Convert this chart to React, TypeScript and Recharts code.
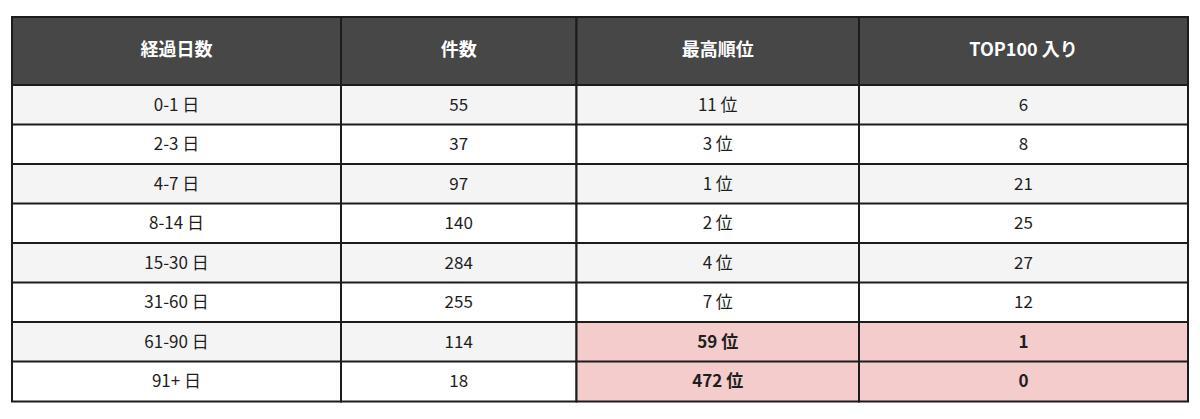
import React from 'react';
import { ComposedChart, Bar, XAxis, YAxis } from 'recharts';

// ---- data ----
const headers = ['経過日数', '件数', '最高順位', 'TOP100 入り'];
const periods = ['0-1 日', '2-3 日', '4-7 日', '8-14 日', '15-30 日', '31-60 日', '61-90 日', '91+ 日'];
const counts = [55, 37, 97, 140, 284, 255, 114, 18];
const bestRanks = [11, 3, 1, 2, 4, 7, 59, 472];
const top100 = [6, 8, 21, 25, 27, 12, 1, 0];
const highlighted = [false, false, false, false, false, false, true, true];

// ---- layout (not data) ----
const COL_WIDTHS = [329, 235.5, 282.5, 329];
const TOTAL = COL_WIDTHS.reduce((a, b) => a + b, 0);
const CENTERS = COL_WIDTHS.map((w, i) => COL_WIDTHS.slice(0, i).reduce((a, b) => a + b, 0) + w / 2);
const HEADER_H = 68;
const FONT = '"Noto Sans CJK JP", "Noto Sans", sans-serif';
const LINE = '#1c1c1c';

const rows = periods.map((p, i) => ({
  label: p,
  c0: COL_WIDTHS[0],
  c1: COL_WIDTHS[1],
  c2: COL_WIDTHS[2],
  c3: COL_WIDTHS[3],
  texts: [p, String(counts[i]), `${bestRanks[i]} 位`, String(top100[i])],
  hl: highlighted[i],
}));

const HeaderTick = (props: any) => {
  const { x, y, index } = props;
  const w = COL_WIDTHS[index];
  return (
    <g>
      <rect x={x - w / 2} y={y - HEADER_H} width={w} height={HEADER_H} fill="#474747" stroke={LINE} strokeWidth={2} />
      <text
        x={x}
        y={y - HEADER_H / 2 - 3}
        textAnchor="middle"
        dominantBaseline="central"
        fill="#ffffff"
        fontWeight={700}
        fontSize={18}
        fontFamily={FONT}
      >
        {headers[index]}
      </text>
    </g>
  );
};

const makeCell = (col: number) => (props: any) => {
  const { x, y, width, height, payload, index } = props;
  const hl = payload.hl && col >= 2;
  const fill = hl ? '#f4cccc' : index % 2 === 0 ? '#f4f4f4' : '#ffffff';
  return (
    <g>
      <rect x={x} y={y} width={width} height={height} fill={fill} stroke={LINE} strokeWidth={2} />
      <text
        x={x + width / 2}
        y={y + height / 2 - 2}
        textAnchor="middle"
        dominantBaseline="central"
        fill="#1e1e1e"
        fontWeight={hl ? 700 : 400}
        fontSize={17}
        fontFamily={FONT}
      >
        {payload.texts[col]}
      </text>
    </g>
  );
};

export default function App() {
  return (
    <div style={{ width: 1184, height: 403, fontFamily: FONT }}>
      <ComposedChart
        width={1184}
        height={403}
        data={rows}
        layout="vertical"
        margin={{ top: 9, right: 4, bottom: 10, left: 4 }}
        barCategoryGap={0}
        barGap={0}
      >
        <XAxis
          type="number"
          orientation="top"
          domain={[0, TOTAL]}
          ticks={CENTERS}
          interval={0}
          height={HEADER_H}
          axisLine={false}
          tickLine={false}
          tickSize={0}
          tickMargin={0}
          tick={<HeaderTick />}
        />
        <YAxis type="category" dataKey="label" hide width={0} />
        {[0, 1, 2, 3].map((c) => (
          <Bar
            key={c}
            dataKey={`c${c}`}
            stackId="t"
            isAnimationActive={false}
            shape={makeCell(c)}
          />
        ))}
      </ComposedChart>
    </div>
  );
}
